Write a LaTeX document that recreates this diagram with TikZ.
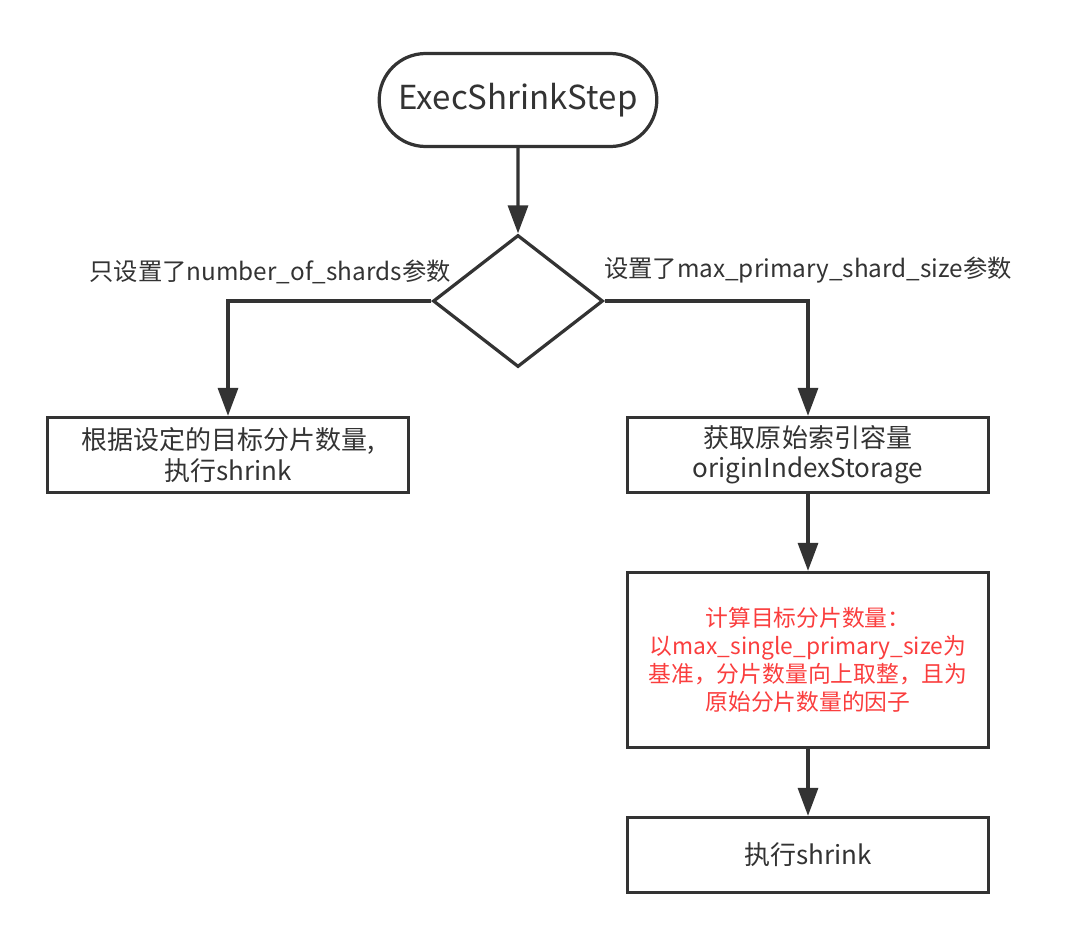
\documentclass[tikz,border=0pt]{standalone}
\usepackage{fontspec}
\setmainfont{Noto Sans CJK SC}
\usepackage{xcolor}
\definecolor{flowgray}{RGB}{51,51,51}
\definecolor{flowred}{RGB}{250,62,62}
\usetikzlibrary{arrows.meta,positioning,shapes.geometric,shapes.misc}

\begin{document}
\begin{tikzpicture}[
  line width=2.3pt,draw=flowgray,
  flowarrow/.style={draw=flowgray,line width=2.3pt,-{Triangle[length=0.7cm,width=0.5cm]}},
  stepbox/.style={draw=flowgray,rectangle,minimum width=9.025cm,minimum height=1.875cm,
    align=center,text=flowgray,inner sep=2pt,font=\fontsize{18.5}{21.5}\selectfont},
  startbox/.style={draw=flowgray,rounded rectangle,minimum width=7.175cm,minimum height=2.325cm,
    text=flowgray,font=\fontsize{23.5}{27}\selectfont},
  choice/.style={draw=flowgray,diamond,minimum width=4.25cm,minimum height=3.3cm,inner sep=0pt},
  branchlabel/.style={text=flowgray,font=\fontsize{17.3}{20}\selectfont,inner sep=0pt}
]
  \useasboundingbox (0,0) rectangle (27,-23.55);
  % Start and decision
  \node[startbox] (start) at (12.95,-2.5) {ExecShrinkStep};
  \node[choice] (cond) at (12.95,-7.525) {};
  % Row 1
  \node[stepbox] (byshards) at (5.7,-11.375) {根据设定的目标分片数量,\\执行shrink};
  \node[stepbox] (getsize) at (20.2,-11.375) {获取原始索引容量\\originIndexStorage};
  % Right column
  \node[stepbox,minimum height=4.375cm,text=flowred,font=\fontsize{16.2}{20}\selectfont]
    (calc) at (20.2,-16.5) {计算目标分片数量：\\以max\_single\_primary\_size为\\基准，分片数量向上取整，且为\\原始分片数量的因子};
  \node[stepbox] (doshrink) at (20.2,-21.375) {执行shrink};
  % Branch labels
  \node[branchlabel] (leftlabel) at (6.75,-6.8) {只设置了number\_of\_shards参数};
  \node[branchlabel] (rightlabel) at (20.2,-6.75) {设置了max\_primary\_shard\_size参数};
  % Connectors
  \draw[flowarrow] (start) -- (cond);
  \draw[flowarrow] (cond.west) -| (byshards.north);
  \draw[flowarrow] (cond.east) -| (getsize.north);
  \draw[flowarrow] (getsize) -- (calc);
  \draw[flowarrow] (calc) -- (doshrink);
\end{tikzpicture}
\end{document}
